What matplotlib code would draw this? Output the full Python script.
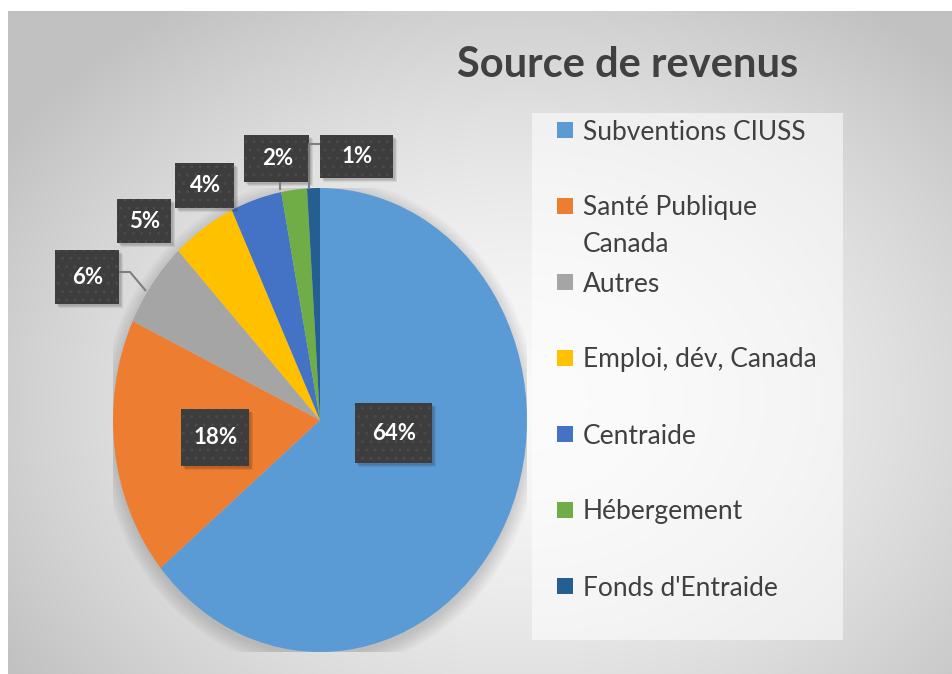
import numpy as np
import matplotlib
matplotlib.use("Agg")
from matplotlib import pyplot as plt
from matplotlib.patches import Rectangle, Ellipse

plt.rcParams['font.family'] = ['Lato', 'DejaVu Sans']

# data
categories = ["Subventions CIUSS", "Santé Publique\nCanada", "Autres",
              "Emploi, dév, Canada", "Centraide", "Hébergement", "Fonds d'Entraide"]
shares = [64, 18, 6, 5, 4, 2, 1]
pct_labels = ["64%", "18%", "6%", "5%", "4%", "2%", "1%"]
colors = ["#5B9BD5", "#ED7D31", "#A5A5A5", "#FFC000", "#4472C4", "#70AD47", "#255E91"]
title = "Source de revenus"

# layout (pixels, origin top-left)
W, H = 953, 674
box_xy = [(393.5, 433), (215, 437.5), (87, 277), (144, 221),
          (204.5, 185), (277, 158.5), (356.5, 156.5)]
box_wh = [(77, 60), (68, 57), (64, 54), (54, 44), (59, 45), (65, 47), (73, 43)]
leaders = [[(119, 272), (130, 272), (146, 291)],
           [(280, 182), (280, 190)],
           [(320, 144), (309, 144), (309, 189)]]
text_col = "#404040"

fig = plt.figure(figsize=(W / 100, H / 100), dpi=100)

# background with radial gradient
bg = fig.add_axes([0, 0, 1, 1], zorder=0)
yy, xx = np.mgrid[11:H, 8:W]
d = np.sqrt(((xx - 520) / 620.0) ** 2 + ((yy - 400) / 480.0) ** 2)
shade = np.clip(0.975 - 0.22 * d ** 1.6, 0.76, 1.0)
img = np.dstack([shade, shade, shade])
bg.imshow(img, extent=[8, W, H, 11], aspect="auto", interpolation="bilinear")
bg.set_xlim(0, W)
bg.set_ylim(H, 0)
bg.axis("off")

# pie (elliptical, as in the reference)
cx, cy, rx, ry = 320, 420, 207, 232
ax = fig.add_axes([(cx - rx) / W, (H - cy - ry) / H, 2 * rx / W, 2 * ry / H], zorder=1)
for k in range(8):
    ax.add_patch(Ellipse((0.0, -0.02), 2.0 + 0.018 * k, 2.0 + 0.018 * k,
                         color="k", alpha=0.018, lw=0))
ax.pie(shares, colors=colors, startangle=90, counterclock=False, radius=1,
       wedgeprops=dict(linewidth=0))
ax.set_xlim(-1, 1)
ax.set_ylim(-1, 1)
ax.set_aspect("auto")
ax.axis("off")

# overlay: labels, leaders, title, legend
ov = fig.add_axes([0, 0, 1, 1], zorder=2)
ov.set_xlim(0, W)
ov.set_ylim(H, 0)
ov.axis("off")
ov.patch.set_alpha(0)

for pts in leaders:
    xs, ys = zip(*pts)
    ov.plot(xs, ys, color="#7f7f7f", lw=1.5, solid_capstyle="butt")

for lbl, (bx, by), (bw, bh) in zip(pct_labels, box_xy, box_wh):
    for k in range(3):
        ov.add_patch(Rectangle((bx - bw / 2 + 2 + k, by - bh / 2 + 2 + k), bw, bh,
                               facecolor="k", alpha=0.08, lw=0))
    ov.add_patch(Rectangle((bx - bw / 2, by - bh / 2), bw, bh, facecolor="#3d3d3d",
                           edgecolor="#4a4a4a", hatch="..", lw=0))
    ov.text(bx + 1, by, lbl, ha="center", va="center", color="white",
            fontsize=16, fontweight="bold")

ov.text(628, 77, title, ha="center", va="baseline", fontsize=30,
        fontweight="bold", color=text_col)

# legend
ov.add_patch(Rectangle((532, 113), 311, 527, facecolor="white", alpha=0.55, lw=0))
for i, (name, c) in enumerate(zip(categories, colors)):
    y = 130 + 76 * i
    ov.add_patch(Rectangle((557, y - 8), 16, 16, facecolor=c, lw=0))
    for j, line in enumerate(name.split("\n")):
        ov.text(583, y + 9.5 + 36 * j, line, ha="left", va="baseline", fontsize=19,
                color=text_col)

fig.savefig("out.png", dpi=100)
